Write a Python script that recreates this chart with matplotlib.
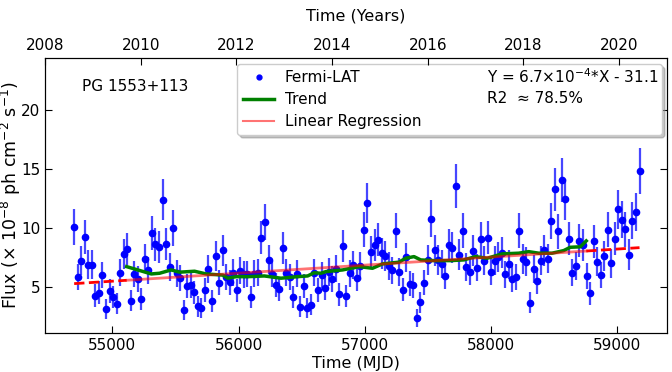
import numpy as np
import matplotlib
matplotlib.use('Agg')
import matplotlib.pyplot as plt
from matplotlib.lines import Line2D

# 28-day binned Fermi-LAT light curve
MJD = [54697, 54725, 54753, 54781, 54809, 54837, 54865, 54893, 54921, 54949,
       54977, 55005, 55033, 55061, 55089, 55117, 55145, 55173, 55201, 55229,
       55257, 55285, 55313, 55341, 55369, 55397, 55425, 55453, 55481, 55509,
       55537, 55565, 55593, 55621, 55649, 55677, 55705, 55733, 55761, 55789,
       55817, 55845, 55873, 55901, 55929, 55957, 55985, 56013, 56041, 56069,
       56097, 56125, 56153, 56181, 56209, 56237, 56265, 56293, 56321, 56349,
       56377, 56405, 56433, 56461, 56489, 56517, 56545, 56573, 56601, 56629,
       56657, 56685, 56713, 56741, 56769, 56797, 56825, 56853, 56881, 56909,
       56937, 56965, 56993, 57021, 57049, 57077, 57105, 57133, 57161, 57189,
       57217, 57245, 57273, 57301, 57329, 57357, 57385, 57413, 57441, 57469,
       57497, 57525, 57553, 57581, 57609, 57637, 57665, 57693, 57721, 57749,
       57777, 57805, 57833, 57861, 57889, 57917, 57945, 57973, 58001, 58029,
       58057, 58085, 58113, 58141, 58169, 58197, 58225, 58253, 58281, 58309,
       58337, 58365, 58393, 58421, 58449, 58477, 58505, 58533, 58561, 58589,
       58617, 58645, 58673, 58701, 58729, 58757, 58785, 58813, 58841, 58869,
       58897, 58925, 58953, 58981, 59009, 59037, 59065, 59093, 59121, 59149,
       59177]

FLUX = [10.1, 5.87, 7.2, 9.26, 6.9, 6.9, 4.26, 4.5, 6.0, 3.1, 4.66, 4.15, 3.56,
        6.19, 7.8, 8.2, 3.84, 6.1, 5.7, 3.96, 7.4, 6.4, 9.55,
        8.6, 8.36, 12.4, 8.64, 6.7, 10.0, 6.16, 5.76, 3.05, 5.1, 5.14, 4.55,
        3.36, 3.22, 4.75, 6.5, 3.8, 7.65, 5.36, 8.1, 5.85, 5.4, 6.2,
        4.7, 6.36, 6.07, 6.1, 4.13, 6.13, 6.19, 9.18, 10.5, 7.3, 6.1, 5.17,
        4.8, 8.28, 6.2, 5.85, 4.13, 6.13, 3.33, 5.06, 3.19, 3.5, 6.19, 4.72,
        6.0, 4.89, 6.27, 5.7, 6.55, 4.38, 8.45, 4.24, 6.16, 6.84, 5.79, 6.78,
        9.86, 12.14, 7.99, 8.53, 9.0, 7.86, 7.63, 6.8, 6.4, 9.75, 6.27, 4.77,
        7.5, 5.28, 5.14, 2.35, 3.7, 5.36, 7.29, 10.76, 8.1, 7.29, 6.95, 5.93,
        8.53, 8.33, 13.56, 7.74, 9.77, 6.69, 6.3, 8.08, 6.64, 9.07, 7.2, 9.18,
        6.3, 7.2, 7.57, 7.9, 6.07, 6.92, 5.65, 5.87, 9.77, 7.37, 7.12, 3.67,
        6.5, 5.5, 7.2, 8.1, 7.4, 10.57, 13.28, 9.72, 14.07, 12.43, 9.1, 6.2,
        6.78, 8.9, 8.56, 5.93, 4.46, 8.87, 7.14, 5.99, 7.63, 9.83, 7.0, 9.1,
        11.6, 10.7, 9.9, 7.74, 10.6, 11.36, 14.8]

FLUX_ERR = [1.51, 1.11, 1.23, 1.43, 1.21, 1.21, 0.95, 0.98, 1.12, 0.84, 0.99, 0.94, 0.89,
            1.14, 1.29, 1.33, 0.91, 1.13, 1.09, 0.93, 1.25, 1.16, 1.46,
            1.37, 1.34, 1.73, 1.37, 1.19, 1.5, 1.14, 1.1, 0.84, 1.03, 1.04, 0.98,
            0.87, 0.86, 1.0, 1.17, 0.91, 1.28, 1.06, 1.32, 1.11, 1.06, 1.14,
            1.0, 1.15, 1.13, 1.13, 0.94, 1.13, 1.14, 1.42, 1.55, 1.24, 1.13, 1.04,
            1.01, 1.34, 1.14, 1.11, 0.94, 1.13, 0.87, 1.03, 0.85, 0.88, 1.14, 1.0,
            1.12, 1.01, 1.15, 1.09, 1.17, 0.97, 1.35, 0.95, 1.14, 1.2, 1.1, 1.19,
            1.49, 1.7, 1.31, 1.36, 1.41, 1.3, 1.27, 1.2, 1.16, 1.48, 1.15, 1.0,
            1.26, 1.05, 1.04, 0.77, 0.9, 1.06, 1.24, 1.57, 1.32, 1.24, 1.21, 1.11,
            1.36, 1.34, 1.84, 1.29, 1.48, 1.19, 1.15, 1.32, 1.18, 1.41, 1.23, 1.42,
            1.15, 1.23, 1.27, 1.3, 1.13, 1.21, 1.09, 1.11, 1.48, 1.25, 1.23, 0.9,
            1.17, 1.07, 1.23, 1.32, 1.25, 1.55, 1.81, 1.47, 1.89, 1.73, 1.41, 1.14,
            1.19, 1.4, 1.36, 1.11, 0.97, 1.39, 1.23, 1.12, 1.27, 1.48, 1.22, 1.41,
            1.65, 1.57, 1.49, 1.29, 1.56, 1.63, 1.96]

# smoothed trend (green)
TREND_MJD = [55113, 55308, 55374, 55466, 55532, 55651, 55743, 55875, 55915, 55980,
             56073, 56204, 56336, 56468, 56547, 56599, 56652, 56692, 56824, 56955,
             57061, 57140, 57271, 57324, 57390, 57443, 57548, 57680, 57785, 57877,
             57970, 58089, 58220, 58299, 58378, 58484, 58576, 58628, 58708, 58755]
TREND_FLUX = [6.72, 6.1, 6.16, 6.44, 6.25, 6.33, 6.1, 6.0, 5.74, 5.87,
              5.87, 5.93, 5.74, 5.87, 5.93, 6.2, 6.16, 6.3, 6.44, 6.72,
              6.58, 6.95, 7.1, 7.43, 7.57, 7.29, 7.23, 7.23, 7.29, 7.57,
              7.43, 7.8, 7.86, 7.99, 7.86, 7.86, 8.08, 8.36, 8.4, 8.9]

# linear regression line end points
REG_MJD = [54697, 59177]
REG_FLUX = [5.28, 8.33]

YEAR_TICKS = [2008, 2010, 2012, 2014, 2016, 2018, 2020]

plt.rcParams.update({'font.size': 11, 'font.family': 'DejaVu Sans',
                     'xtick.direction': 'in', 'ytick.direction': 'in'})

fig = plt.figure(figsize=(6.72, 3.72), dpi=100)
ax = fig.add_axes([0.067, 0.105, 0.9256, 0.739])

ax.errorbar(MJD, FLUX, yerr=FLUX_ERR, fmt='o', color='blue', ms=4.5,
            ecolor=(0.15, 0.15, 1.0, 0.85), elinewidth=1.6, capsize=0, zorder=3)

ax.plot(TREND_MJD, TREND_FLUX, color='green', lw=2.5, zorder=4)

# regression: solid over the trend span, dashed outside it
t0, t1 = TREND_MJD[0], TREND_MJD[-1]
r0, r1 = np.interp([t0, t1], REG_MJD, REG_FLUX)
ax.plot([t0, t1], [r0, r1], color='red', lw=2, alpha=0.55, zorder=5)
ax.plot([REG_MJD[0], t0], [REG_FLUX[0], r0], color='red', lw=2, ls='--', zorder=5)
ax.plot([t1, REG_MJD[1]], [r1, REG_FLUX[1]], color='red', lw=2, ls='--', zorder=5)

ax.set_xlim(54466, 59395)
ax.set_ylim(1.1, 24.4)
ax.set_xticks([55000, 56000, 57000, 58000, 59000])
ax.set_yticks([5, 10, 15, 20])
ax.tick_params(top=False, right=True, length=5)
ax.set_xlabel('Time (MJD)', fontsize=11.5, labelpad=2)
ax.set_ylabel('Flux (× 10$^{-8}$ ph cm$^{-2}$ s$^{-1}$)', fontsize=12.5)
ax.yaxis.set_label_coords(-0.036, 0.5)

ax.text(0.059, 0.898, 'PG 1553+113', transform=ax.transAxes, va='center', ha='left')

handles = [Line2D([0], [0], marker='o', color='blue', ls='none', ms=3.5, label='Fermi-LAT'),
           Line2D([0], [0], color='green', lw=2.5, label='Trend'),
           Line2D([0], [0], color='red', lw=1.5, alpha=0.55, label='Linear Regression')]
leg = ax.legend(handles=handles, loc='upper left', bbox_to_anchor=(0.309, 0.727, 0.683, 0.251),
                mode='expand', shadow={'color': '0.55', 'alpha': 0.5}, fancybox=True,
                handlelength=2.0, handletextpad=0.7, borderaxespad=0, labelspacing=0.45,
                framealpha=1, edgecolor='0.8')
leg.set_zorder(8)
ax.text(0.711, 0.932, 'Y = 6.7×10$^{-4}$*X - 31.1', transform=ax.transAxes,
        va='center', ha='left', zorder=10)
ax.text(0.711, 0.853, 'R2  ≈ 78.5%', transform=ax.transAxes,
        va='center', ha='left', zorder=10)

# top axis in years
top = ax.twiny()
top.set_xlim(2008, 2021)
top.set_xticks(YEAR_TICKS)
top.tick_params(direction='in', length=5)
top.set_xlabel('Time (Years)', fontsize=11.5, labelpad=13)

fig.savefig('out.png', dpi=100)
